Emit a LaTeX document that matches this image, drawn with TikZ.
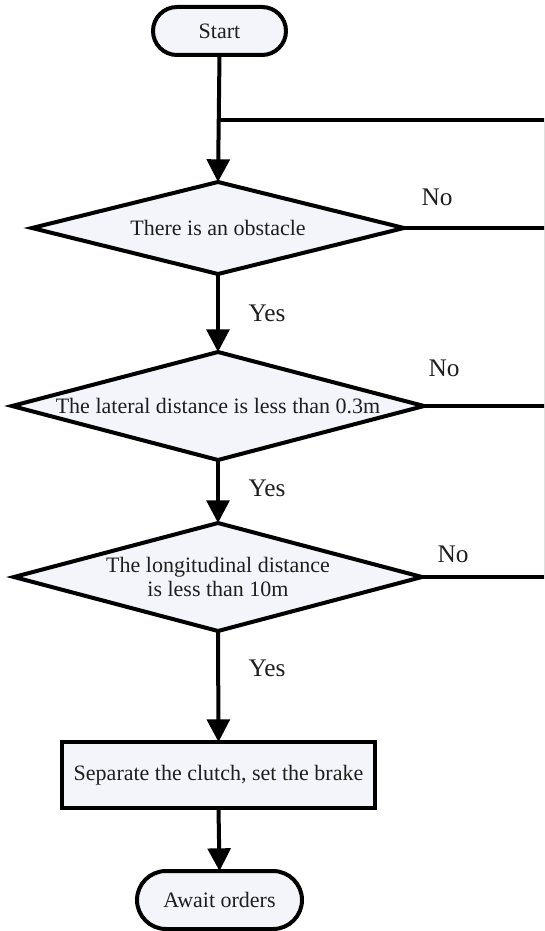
\documentclass[tikz,border=0pt]{standalone}
\usepackage{fontspec}
\setmainfont{Liberation Serif}
\usetikzlibrary{shapes.geometric,arrows.meta}
\definecolor{fillc}{HTML}{F3F5FA}
\definecolor{txtc}{HTML}{1E1E1E}
\begin{document}
\begin{tikzpicture}[x=0.75pt,y=-0.75pt,
  every node/.style={text=txtc},
  ln/.style={line width=3pt,line join=miter,draw=black},
  arr/.style={ln,-{Triangle[length=17pt,width=17pt]}},
  dia/.style={diamond,draw=black,line width=3pt,fill=fillc,inner sep=0pt,outer sep=0pt},
  term/.style={rectangle,draw=black,line width=3pt,fill=fillc,inner sep=0pt,outer sep=0pt},
  procbox/.style={rectangle,draw=black,line width=3.2pt,fill=fillc,inner sep=0pt,outer sep=0pt},
  ntext/.style={font=\fontsize{16.5}{18.5}\selectfont,align=center,inner sep=0pt},
  lab/.style={font=\fontsize{19}{21}\selectfont,inner sep=0pt}]
\useasboundingbox (0,0) rectangle (544,931);
\clip (0,0) rectangle (544,931);
% shapes
\node[term,rounded corners=24*0.75pt,minimum width=133*0.75pt,minimum height=48*0.75pt] (start) at (219.5,31) {};
\node[ntext] (starttxt) at (start) {Start};
\node[dia,minimum width=372*0.75pt,minimum height=92*0.75pt] (d1) at (218,228) {};
\node[ntext] (d1txt) at (d1) {There is an obstacle};
\node[dia,minimum width=412*0.75pt,minimum height=108*0.75pt] (d2) at (218,406) {};
\node[ntext] (d2txt) at (d2) {The lateral distance is less than 0.3m};
\node[dia,minimum width=408*0.75pt,minimum height=108*0.75pt] (d3) at (218,577) {};
\node[ntext] (d3txt) at (d3) {The longitudinal distance\\is less than 10m};
\node[procbox,minimum width=313*0.75pt,minimum height=66*0.75pt] (act) at (218.5,775) {};
\node[ntext] (acttxt) at (act) {Separate the clutch, set the brake};
\node[term,rounded corners=29*0.75pt,minimum width=165*0.75pt,minimum height=58*0.75pt] (await) at (219.5,900) {};
\node[ntext] (awaittxt) at (await) {Await orders};
% coordinates
\coordinate (loopL) at (218,120);
\coordinate (loopR) at (546,120);
% connectors
\draw[arr] (start.south) -- (d1.north);
\draw[ln] (d3.east) -- (d3.east -| loopR) -- (loopR) -- (loopL);
\draw[ln] (d1.east) -- (d1.east -| loopR);
\draw[ln] (d2.east) -- (d2.east -| loopR);
\draw[arr] (d1.south) -- (d2.north);
\draw[arr] (d2.south) -- (d3.north);
\draw[arr] (d3.south) -- (act.north);
\draw[arr] (act.south) -- (await.north);
% labels
\node[lab] (no1) at (437,197) {No};
\node[lab] (no2) at (444,368) {No};
\node[lab] (no3) at (453,554) {No};
\node[lab] (yes1) at (267,313) {Yes};
\node[lab] (yes2) at (267,488) {Yes};
\node[lab] (yes3) at (267,668) {Yes};
\end{tikzpicture}
\end{document}
